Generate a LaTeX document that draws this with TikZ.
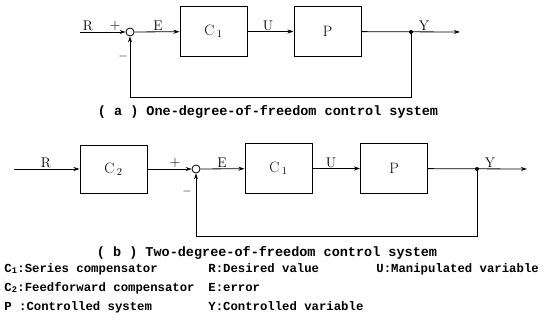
\documentclass[tikz,border=0pt]{standalone}
\usepackage{fontspec}
\newfontfamily\printfont{Liberation Mono}
\usetikzlibrary{arrows.meta}

\tikzset{
  block/.style={draw, line width=1pt, minimum width=67pt, minimum height=50pt, inner sep=0pt, font=\fontsize{15}{15}\selectfont},
  sumpt/.style={draw, circle, line width=0.8pt, inner sep=0pt, minimum size=8pt},
  sig/.style={above, inner sep=1pt, font=\fontsize{14}{14}\selectfont},
  caption/.style={font=\printfont\bfseries\fontsize{13.5}{14}\selectfont},
  legend/.style={anchor=base west, inner sep=0pt, font=\printfont\bfseries\fontsize{12.3}{14}\selectfont}
}

\begin{document}
\begin{tikzpicture}[x=1pt, y=-1pt, >={Stealth[length=6pt, width=4pt]}, line width=0.8pt]
      \useasboundingbox (0,0) rectangle (544,321);

      % (a) one-degree-of-freedom loop
      \coordinate (ina) at (80,32);
      \node[sumpt] (suma) at (130,32) {};
      \node[block] (c1a) at (213.5,31.5) {C\,\textsubscript{1}};
      \node[block] (pa) at (327.5,31.5) {P};
      \coordinate (ya) at (411,32);
      \coordinate (outa) at (460,32);
      \coordinate (fba) at (130,97);
      \draw[->] (ina) -- (suma);
      \draw[->] (suma) -- (c1a);
      \draw[->] (c1a) -- (pa);
      \draw[->] (pa) -- (outa);
      \fill (ya) circle (2pt);
      \draw[->] (ya) |- (fba) -- (suma.south);

      % Signal labels of (a)
      \node[sig] (ra) at (88,32) {R};
      \node[sig] (plusa) at (115,32) {$+$};
      \node[sig] (ea) at (158,32) {E};
      \node[sig] (ua) at (268,32) {U};
      \node[sig] (yla) at (424,32) {Y};
      \node[font=\fontsize{12}{12}\selectfont] (minusa) at (123,57) {$-$};
      \node[caption] (capa) at (268,112) {( a ) One-degree-of-freedom control system};

      % (b) two-degree-of-freedom loop
      \coordinate (inb) at (14,169);
      \node[block, minimum height=48pt] (c2b) at (113.5,169) {C\,\textsubscript{2}};
      \node[sumpt] (sumb) at (196,169) {};
      \node[block] (c1b) at (278.5,168.5) {C\,\textsubscript{1}};
      \node[block] (pb) at (394,168.5) {P};
      \coordinate (yb) at (477,169);
      \coordinate (outb) at (527,169);
      \coordinate (fbb) at (196,236);
      \draw[->] (inb) -- (c2b);
      \draw[->] (c2b) -- (sumb);
      \draw[->] (sumb) -- (c1b);
      \draw[->] (c1b) -- (pb);
      \draw[->] (pb) -- (outb);
      \fill (yb) circle (2pt);
      \draw[->] (yb) |- (fbb) -- (sumb.south);

      % Signal labels of (b)
      \node[sig] (rb) at (46,169) {R};
      \node[sig] (plusb) at (175,169) {$+$};
      \node[font=\fontsize{12}{12}\selectfont] (minusb) at (187,191) {$-$};
      \node[sig] (eb) at (222,169) {E};
      \node[sig] (ub) at (331,169) {U};
      \node[sig] (ylb) at (490,169) {Y};
      \node[caption] (capb) at (267,253) {( b ) Two-degree-of-freedom control system};

      % Legend
      \node[legend] (lc1) at (4,272) {C\textsubscript{1}:Series compensator};
      \node[legend] (lc2) at (4,291) {C\textsubscript{2}:Feedforward compensator};
      \node[legend] (lp) at (4,310) {P :Controlled system};
      \node[legend] (lr) at (208,272) {R:Desired value};
      \node[legend] (le) at (208,291) {E:error};
      \node[legend] (ly) at (208,310) {Y:Controlled variable};
      \node[legend] (lu) at (376,272) {U:Manipulated variable};
    \end{tikzpicture}
\end{document}
